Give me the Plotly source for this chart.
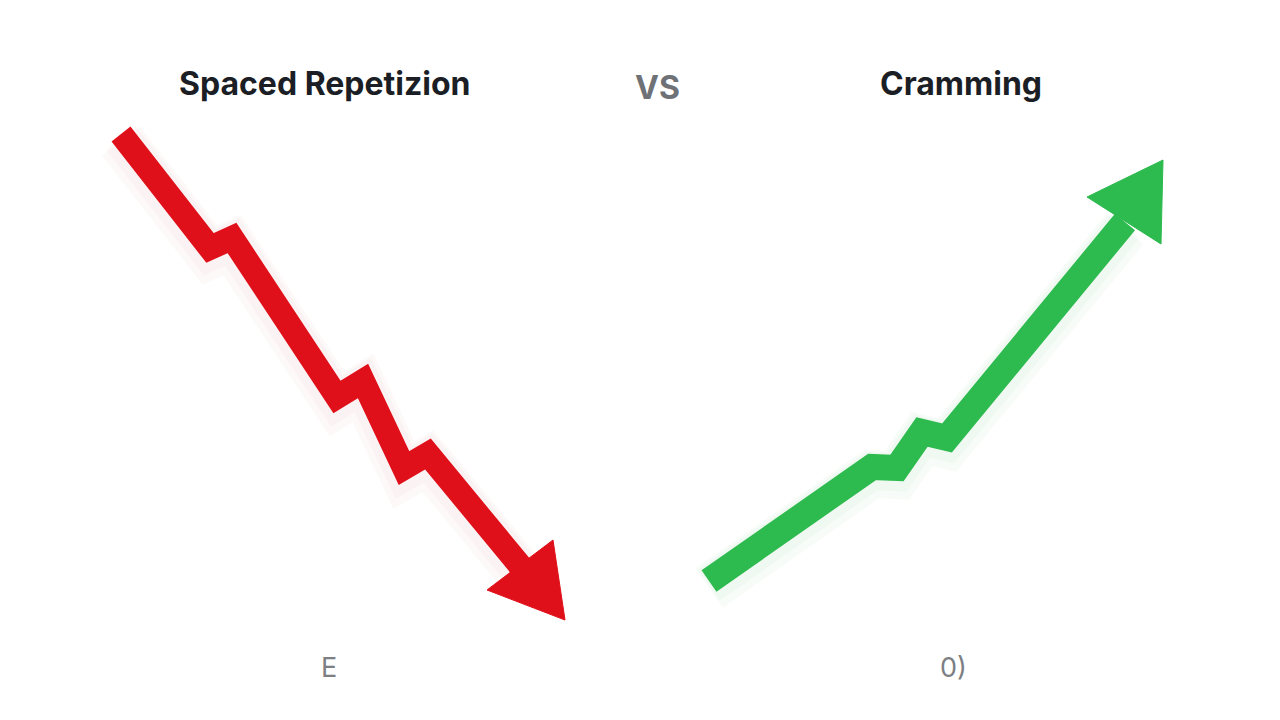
import plotly.graph_objects as go

# Data (x to the right, y upward, canvas-like units)
red_x = [121, 210, 232, 337, 363, 404, 428, 522]
red_y = [586, 472, 482, 323, 339, 252, 266, 152]
red_head_x = [487, 553, 565, 487]
red_head_y = [130, 180, 100, 130]

green_x = [709, 872, 897, 922, 947, 1125]
green_y = [139, 253, 252, 288, 282, 498]
green_head_x = [1087, 1163, 1161, 1087]
green_head_y = [523, 560, 476, 523]

titles = ["Spaced Repetizion", "VS", "Cramming"]
title_x = [325, 657, 961]
title_y = [637, 633, 637]
bottom_labels = ["E", "0)"]
bottom_x = [329, 953]
bottom_y = [53, 53]

RED = "#e0101a"
GREEN = "#2dba4e"

fig = go.Figure()

# soft shadows
for xs, ys, col in [(red_x, red_y, "rgba(200,60,60,0.03)"), (green_x, green_y, "rgba(45,186,78,0.04)")]:
    for w, dy in [(48, -7), (38, -4)]:
        fig.add_trace(go.Scatter(x=xs, y=[v + dy for v in ys], mode="lines",
                                 line=dict(color=col, width=w), hoverinfo="skip", showlegend=False))

fig.add_trace(go.Scatter(x=red_x, y=red_y, mode="lines",
                         line=dict(color=RED, width=24), showlegend=False))
fig.add_trace(go.Scatter(x=red_head_x, y=red_head_y, mode="lines", fill="toself",
                         fillcolor=RED, line=dict(color=RED, width=1), showlegend=False))
fig.add_trace(go.Scatter(x=green_x, y=green_y, mode="lines",
                         line=dict(color=GREEN, width=26), showlegend=False))
fig.add_trace(go.Scatter(x=green_head_x, y=green_head_y, mode="lines", fill="toself",
                         fillcolor=GREEN, line=dict(color=GREEN, width=1), showlegend=False))

title_colors = ["#1b1e25", "#6e7176", "#1b1e25"]
title_sizes = [32, 32, 32]
for t, x, y, c, s in zip(titles, title_x, title_y, title_colors, title_sizes):
    fig.add_annotation(x=x, y=y, text=f"<b>{t}</b>", showarrow=False,
                       font=dict(family="Inter, Roboto, Arial", size=s, color=c),
                       xanchor="center", yanchor="middle")
for t, x, y in zip(bottom_labels, bottom_x, bottom_y):
    fig.add_annotation(x=x, y=y, text=t, showarrow=False,
                       font=dict(family="Inter, Roboto, Arial", size=27, color="#7d7f83"),
                       xanchor="center", yanchor="middle")

fig.update_layout(
    width=1280, height=720,
    margin=dict(l=0, r=0, t=0, b=0),
    paper_bgcolor="#ffffff", plot_bgcolor="#ffffff",
    xaxis=dict(range=[0, 1280], visible=False, fixedrange=True),
    yaxis=dict(range=[0, 720], visible=False, fixedrange=True),
)

fig.write_html("out.html", config={"displayModeBar": False},
               post_script="document.body.style.margin='0';")
